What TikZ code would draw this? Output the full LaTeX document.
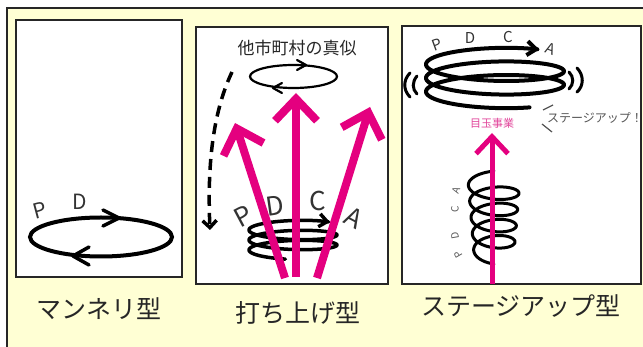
\documentclass[tikz,border=0pt]{standalone}
\usepackage{fontspec}
\setmainfont{Noto Sans CJK JP}
\usetikzlibrary{arrows.meta}
\definecolor{bgy}{HTML}{FFFFD4}
\definecolor{mag}{HTML}{E4007F}
\definecolor{pinktxt}{HTML}{E2479C}
\definecolor{graytxt}{HTML}{555555}
\begin{document}
\begin{tikzpicture}[x=1pt,y=-1pt,
  panel/.style={draw=black!85,line width=2,fill=white},
  title/.style={font=\fontsize{25}{30}\selectfont,text=black!85,inner sep=0},
  letter/.style={inner sep=0,text=black!80},
  chev/.style={line cap=round,line join=round},
  pinkarr/.style={draw=mag,line width=8,-{Straight Barb[length=22pt,width=42pt]}},
  coil/.style={line width=3.5,line join=round,line cap=round}]
\useasboundingbox (0,0) rectangle (643,347);
\clip (0,0) rectangle (643,347);
\fill[white] (0,0) rectangle (643,347);
\draw[line width=2,draw=black!85,fill=bgy] (7,8) rectangle (660,360);
% panels
\draw[panel] (16,20) rectangle (182,277);
\draw[panel] (196,27) rectangle (388,284);
\draw[panel] (402,26) rectangle (641,284);
% ---------- panel 1
\draw[line width=4] (101,237) ellipse [x radius=71, y radius=19.5];
\draw[chev,line width=3.5] (103,210) -- (119,218) -- (103,226);
\draw[chev,line width=3.5] (89,247) -- (73,256) -- (89,265);
\node[letter,font=\fontsize{21}{21}\selectfont,rotate=15] (p1p) at (40,210) {P};
\node[letter,font=\fontsize{21}{21}\selectfont] (p1d) at (80,202) {D};
\node[title] (t1) at (99,309) {マンネリ型};
% ---------- panel 2
\node[inner sep=0,font=\fontsize{17}{17}\selectfont,text=black!85] (mane) at (297,48) {他市町村の真似};
\draw[line width=2.2] (293.5,76.5) ellipse [x radius=43.5, y radius=11.5];
\draw[chev,line width=2.2] (297,60) -- (306,65) -- (297,70);
\draw[chev,line width=2.2] (282,83) -- (273,88) -- (282,93);
\draw[line width=3.5,dash pattern=on 11pt off 7pt,-{Straight Barb[length=7pt,width=14pt]}]
  (232,72) .. controls (214,110) and (207,160) .. (210,230);
\draw[coil,-{Straight Barb[length=8pt,width=13pt]}] plot[domain=100:1047,samples=220,smooth]
  ({293+44*cos(\x)},{255-10*(\x/360)+7*sin(\x)});
\node[letter,font=\fontsize{26}{26}\selectfont,rotate=28] (p2p) at (243,216) {P};
\node[letter,font=\fontsize{26}{26}\selectfont,rotate=8] (p2d) at (275,206) {D};
\node[letter,font=\fontsize{26}{26}\selectfont] (p2c) at (318,201) {C};
\node[letter,font=\fontsize{26}{26}\selectfont,rotate=-28] (p2a) at (354,218) {A};
\coordinate (l0) at (285,278); \coordinate (l1) at (235,123);
\coordinate (m0) at (296,277); \coordinate (m1) at (296,93);
\coordinate (r0) at (317,278); \coordinate (r1) at (370,107);
\draw[pinkarr] (l0) -- (l1);
\draw[pinkarr] (m0) -- (m1);
\draw[pinkarr] (r0) -- (r1);
\node[title] (t2) at (298,313) {打ち上げ型};
% ---------- panel 3
\draw[line width=4,line join=round,line cap=round,-{Straight Barb[length=9pt,width=14pt]}]
  plot[domain=60:1030,samples=260,smooth] ({495+69*cos(\x)},{98.4-13.6*(\x/360)+13*sin(\x)});
\draw[line width=3,line cap=round] (410,73) .. controls (403,80) and (403,90) .. (410,97);
\draw[line width=3,line cap=round] (417,76) .. controls (412,82) and (412,89) .. (417,94);
\draw[line width=3,line cap=round] (569,72) .. controls (574,77) and (574,84) .. (569,89);
\draw[line width=3,line cap=round] (577,68) .. controls (584,75) and (584,86) .. (577,92);
\node[letter,font=\fontsize{15}{15}\selectfont,rotate=20] (p3p) at (437,45) {P};
\node[letter,font=\fontsize{15}{15}\selectfont] (p3d) at (470,38) {D};
\node[letter,font=\fontsize{15}{15}\selectfont] (p3c) at (508,37) {C};
\node[letter,font=\fontsize{15}{15}\selectfont,rotate=-20] (p3a) at (551,49) {A};
\draw[line width=1.2,graytxt] (543,110) -- (553,105);
\draw[line width=1.2,graytxt] (542,124) -- (552,132);
\node[inner sep=0,font=\fontsize{12}{12}\selectfont,text=graytxt] (stup) at (595,118) {ステージアップ！};
\node[inner sep=0,font=\fontsize{11}{11}\selectfont,text=pinktxt] (medama) at (492,123) {目玉事業};
\draw[coil,line width=3] plot[domain=90:1710,samples=300,smooth]
  ({494+(20+6*((\x-90)/1620))*cos(\x)},{258-16.2*(\x/360)+10*sin(\x)});
\node[letter,font=\fontsize{10}{10}\selectfont,rotate=70,text=graytxt] (p3sa) at (456,190) {A};
\node[letter,font=\fontsize{10}{10}\selectfont,rotate=90,text=graytxt] (p3sc) at (455,209) {C};
\node[letter,font=\fontsize{10}{10}\selectfont,rotate=100,text=graytxt] (p3sd) at (455,236) {D};
\node[letter,font=\fontsize{10}{10}\selectfont,rotate=120,text=graytxt] (p3sp) at (458,255) {P};
\coordinate (s0) at (492,284); \coordinate (s1) at (492,133);
\draw[draw=mag,line width=5,-{Straight Barb[length=17pt,width=32pt]}] (s0) -- (s1);
\node[title] (t3) at (521,306) {ステージアップ型};
\end{tikzpicture}
\end{document}
